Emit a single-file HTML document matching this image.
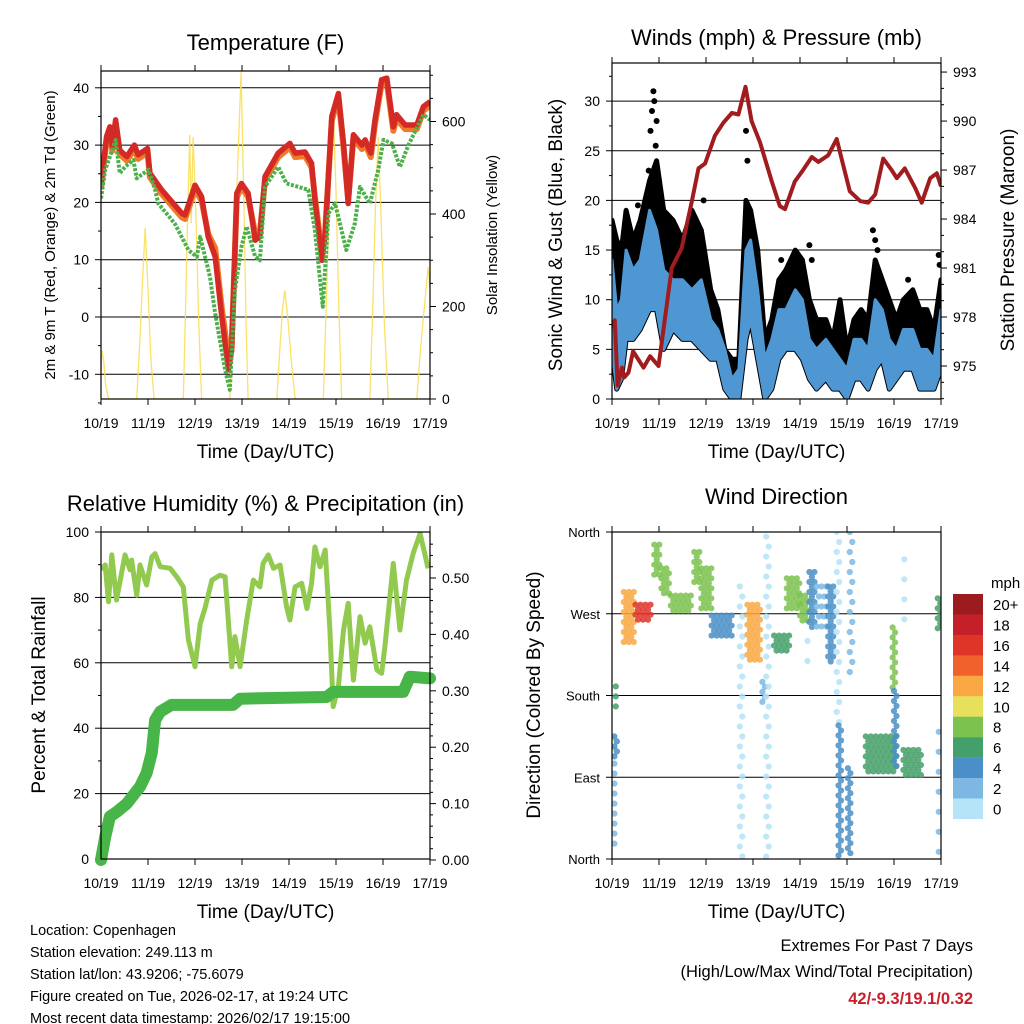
<!DOCTYPE html>
<html><head><meta charset="utf-8"><style>
body{margin:0;background:#fff;}
svg{display:block;font-family:"Liberation Sans",sans-serif;}
</style></head><body>
<svg id="c" width="1024" height="1024" viewBox="0 0 1024 1024"></svg>
<script>
// ---------- DATA ----------
const dayLabels = ["10/19","11/19","12/19","13/19","14/19","15/19","16/19","17/19"];
const tDays = [0,0.12,0.19,0.24,0.31,0.40,0.55,0.71,0.79,0.99,1.04,1.29,1.72,1.79,2.0,2.14,2.28,2.43,2.57,2.71,2.78,2.89,2.99,3.13,3.28,3.38,3.49,3.77,4.02,4.13,4.34,4.48,4.55,4.70,4.77,4.91,5.05,5.16,5.26,5.37,5.55,5.62,5.74,5.83,5.97,6.08,6.22,6.29,6.47,6.72,6.86,7.0];
const tRed = [23.3,31.5,33.2,29.7,34.4,29.1,28,30,28.3,29.4,25.1,22.2,18.1,17.8,23,21,14,10.5,0,-9.2,-5.8,21.6,23.3,21.6,13.4,14,24.5,28.6,30.3,28.6,28.8,26.8,20.4,9.9,14.6,35,39,30.3,19.8,31.8,30,30.9,28.6,34.4,41.4,41.7,33.2,35.3,33.5,33.5,36.7,37.6];
const tOrange = [22.6,30.8,32.5,29,33.7,28.4,27.3,29.3,27.6,28.7,24.4,21.5,17.4,17.1,22.3,20.3,14.5,12,1.5,-7,-4.8,20.9,22.6,21,14.5,14.8,23.8,27.9,29.6,27.9,28.1,26.1,21,11,15,34.3,38.3,29.6,20.5,31.1,29.3,30.2,27.9,33.7,40.7,41,32.5,34.6,32.8,32.8,36,36.9];
const tdDays = [0,0.09,0.19,0.31,0.40,0.51,0.69,0.76,1.01,1.15,1.22,1.57,1.86,2.04,2.11,2.32,2.43,2.64,2.74,2.85,2.99,3.10,3.28,3.38,3.49,3.77,3.95,4.41,4.55,4.72,4.84,4.98,5.22,5.40,5.51,5.72,5.90,6.01,6.19,6.36,6.54,6.86,7.0];
const tdVals = [20.7,25.7,28,30.9,25.1,26.2,27.4,24.2,25.7,22.2,19.8,16.3,11.7,10.5,14,7,0.6,-9.2,-12.7,4.7,12.3,15.8,10.5,9.9,22.7,26.2,23.3,22.2,15.2,1.8,18.1,19.8,11.7,16.3,22.7,19.8,25.7,30.9,30.3,26.2,30,35.3,34.4];
const solarDays = [0,0.02,0.06,0.1,0.16,0.76,0.82,0.88,0.94,1.0,1.06,1.13,1.75,1.8,1.85,1.89,1.92,1.96,2.02,2.08,2.14,2.74,2.82,2.9,2.98,3.04,3.09,3.13,3.74,3.8,3.86,3.91,3.97,4.05,4.13,4.73,4.8,4.87,4.94,5.0,5.06,5.12,5.72,5.78,5.84,5.9,5.96,6.03,6.11,6.72,6.8,6.88,6.96,7.0];
const solarVals = [60,105,80,30,0,0,110,250,370,240,90,0,0,200,420,571,380,566,400,160,0,0,240,480,707,420,150,0,0,100,190,235,180,80,0,0,230,470,631,450,200,0,0,190,420,566,390,160,0,0,110,200,285,240];
const wDays = [0,0.1,0.2,0.3,0.45,0.6,0.8,0.95,1.1,1.3,1.5,1.7,1.9,2.1,2.25,2.4,2.55,2.7,2.85,2.95,3.1,3.25,3.4,3.55,3.7,3.9,4.05,4.2,4.35,4.55,4.7,4.85,5.0,5.15,5.3,5.45,5.6,5.75,5.9,6.05,6.2,6.4,6.55,6.7,6.85,7.0];
const windLo = [5,1,2,6,6,7,9,9,5,7,6,6,5,4,4,1,0,0,6,8,4,0,1,4,5,5,4,2,1,2,1,1,0,2,2,1,3,4,1,2,3,3,1,1,1,3];
const windHi = [14,9,10,15,13,14,19,17,13,12,12,11,12,8,7,5,2,3,15,16,11,4,6,9,9,11,10,6,5,6,5,4,3,6,6,5,10,9,6,5,7,7,5,5,4,9];
const gustHi = [18,16,15,19,16,18,22,24,19,18,16,19,17,11,9,5,4,4,20,19,15,6,8,12,13,15,14,10,8,8,6,10,5,8,9,8,14,12,10,8,10,11,9,9,7,12];
const gustOutDays = [0.55,0.78,0.82,0.85,0.88,0.9,0.93,0.95,1.0,1.95,2.85,2.88,3.6,4.2,4.25,5.55,5.6,5.65,6.3,6.95,6.97];
const gustOutVals = [19.5,23,27,29,31,30,25.5,28,22,20,27,24,14,15.5,14,17,16,15,12,14.5,13.5];
const pDays = [0,0.06,0.12,0.21,0.26,0.35,0.45,0.67,0.81,0.99,1.09,1.27,1.48,1.70,1.84,1.98,2.19,2.37,2.55,2.69,2.84,2.97,3.15,3.40,3.57,3.68,3.89,4.04,4.25,4.39,4.60,4.78,4.92,5.06,5.28,5.45,5.60,5.77,5.95,6.06,6.23,6.45,6.59,6.77,6.91,7.0];
const pVals = [977.3,977.8,973.8,974.9,974.3,974.6,975.9,974.9,975.6,975,977.1,981,982.2,985.1,987.1,987.4,989.1,989.9,990.5,990.4,992.1,990,988.7,986.3,984.8,984.6,986.3,986.9,987.8,987.5,987.9,988.9,987.3,985.7,985.1,985,985.5,987.7,987,986.5,987.1,985.9,985,986.5,986.8,986];
const rhDays = [0.01,0.09,0.16,0.23,0.33,0.51,0.62,0.65,0.76,0.83,0.97,1.08,1.15,1.26,1.47,1.61,1.75,1.86,2.0,2.11,2.21,2.36,2.53,2.64,2.78,2.85,2.96,3.10,3.24,3.38,3.45,3.56,3.67,3.81,3.95,4.02,4.13,4.27,4.38,4.48,4.55,4.66,4.77,4.87,4.94,5.05,5.16,5.26,5.37,5.51,5.62,5.72,5.87,5.97,6.04,6.22,6.36,6.50,6.64,6.79,6.96];
const rhVals = [88.4,89.9,78.7,93,79.2,93,88.4,91.4,80.7,89.9,83.8,92.4,93.4,89.4,88.9,86.3,83.2,67,58.8,72,76.6,85.3,86.8,86.3,58.8,68,58.8,73.1,85.3,83.2,90.4,93,88.9,89.9,77.1,73.1,83.2,84.3,76.6,84.3,95.4,89.4,94.5,70,46.6,52.7,70,78.2,54.7,74.1,66,71,57.8,56.8,65,90.4,70,85.3,93.4,99.5,88.9];
const prDays = [0,0.09,0.19,0.33,0.55,0.83,0.97,1.08,1.15,1.26,1.50,2.81,2.96,4.80,4.94,6.43,6.57,7.0];
const prVals = [0,0.041,0.077,0.085,0.10,0.13,0.154,0.19,0.248,0.263,0.275,0.275,0.286,0.289,0.298,0.298,0.325,0.322];
// wind direction clusters: start day, end day, low dir, high dir, speed
const wdT0 = [0.0,0.05,0.08,0.05,0.25,0.5,0.9,1.05,1.25,1.75,1.9,2.12,2.72,2.88,3.2,3.28,3.45,3.72,4.0,4.2,4.35,4.6,4.78,5.06,4.82,5.02,5.4,5.97,6.0,6.2,6.95,6.93,6.22,4.16];
const wdT1 = [0.05,0.15,0.12,0.09,0.5,0.85,1.05,1.25,1.7,1.9,2.12,2.55,2.8,3.18,3.26,3.34,3.82,4.0,4.2,4.35,4.6,4.75,4.84,5.12,4.9,5.1,6.05,6.05,6.06,6.6,7.0,7.0,6.26,4.2];
const wdLo = [111,110,165,15,236,261,310,290,268,300,275,243,0,217,170,0,225,275,258,250,255,217,150,200,2,2,95,185,100,90,0,250,260,200];
const wdHi = [133,135,190,105,294,280,346,320,290,338,320,268,300,280,195,355,246,309,290,316,300,300,360,360,147,100,135,255,185,120,140,287,330,240];
const wdSpd = [11,5,7,3,12,17,9,9,9,9,9,5,1,12,3,1,6,8,8,4,2,4,1,2,4,4,6,8,4,6,2,7,1,1];
const cbLabels = ["20+","18","16","14","12","10","8","6","4","2","0"];
const cbColors = ["#9b1b1e","#c4202a","#df3428","#f0612b","#f9a843","#e6e05a","#7cc24f","#44a06a","#4a8fc7","#7cb8e3","#b5e3f7"];

// ---------- HELPERS ----------
const NS="http://www.w3.org/2000/svg";
const svg=document.getElementById('c');
function mk(tag,attrs,parent){const e=document.createElementNS(NS,tag);for(const k in attrs)e.setAttribute(k,attrs[k]);(parent||svg).appendChild(e);return e;}
function txt(s,x,y,size,anchor,parent,extra){const e=mk('text',Object.assign({x:x,y:y,'font-size':size,'text-anchor':anchor||'middle',fill:'#000'},extra||{}),parent);e.textContent=s;return e;}
function poly(xs,ys,fx,fy){return xs.map((d,i)=>fx(d).toFixed(1)+','+fy(ys[i]).toFixed(1)).join(' ');}

function panel(name,x0,x1,top,bot){
  const g=mk('g',{});
  
  
  const cp=mk('clipPath',{id:'cp-'+name},g);
  mk('rect',{x:x0,y:top,width:x1-x0,height:bot-top},cp);
  const sx=d=>x0+d*(x1-x0)/7;
  for(let i=0;i<8;i++){
    const x=sx(i);
    mk('line',{x1:x,y1:bot,x2:x,y2:bot+6,stroke:'#000','stroke-width':1},g);
    mk('line',{x1:x,y1:top,x2:x,y2:top-6,stroke:'#000','stroke-width':1},g);
    const t=txt(dayLabels[i],x,bot+29,14,'middle',g);
    
    
  }
  const t=txt('Time (Day/UTC)',(x0+x1)/2,bot+59,19,'middle',g);
  
  
  return {g,sx,x0,x1,top,bot,clip:'url(#cp-'+name+')'};
}
function yAxis(p,side,vals,fy,labels,minor,grid,size){
  const x=side==='l'?p.x0:p.x1, dir=side==='l'?-1:1;
  minor.forEach(v=>{const y=fy(v);mk('line',{x1:x,y1:y,x2:x+dir*3,y2:y,stroke:'#000','stroke-width':1},p.g);});
  vals.forEach((v,i)=>{const y=fy(v);
    mk('line',{x1:x,y1:y,x2:x+dir*6,y2:y,stroke:'#000','stroke-width':1},p.g);
    if(grid) mk('line',{x1:p.x0,y1:y,x2:p.x1,y2:y,stroke:'#000','stroke-width':1},p.g);
    const t=txt(labels[i],x+dir*12,y+5,size||14,side==='l'?'end':'start',p.g);
    
    
  });
}
function frame(p){mk('rect',{x:p.x0,y:p.top,width:p.x1-p.x0,height:p.bot-p.top,fill:'none',stroke:'#000','stroke-width':1.2},p.g);}
function vtitle(p,s,x,cy,size,name){const t=txt(s,x,cy,size,'middle',p.g,{transform:'rotate(-90 '+x+' '+cy+')'});}
function title(p,s,y,name){const t=txt(s,(p.x0+p.x1)/2,y,22,'middle',p.g);}

// ---------- PANEL 1: TEMPERATURE ----------
const p1=panel('temperature-panel',101,430,71,399);
const tY=v=>317-v*5.73, sY=v=>399-v*0.4625;
yAxis(p1,'l',[-10,0,10,20,30,40],tY,['-10','0','10','20','30','40'],[-15,-5,5,15,25,35],true);
yAxis(p1,'r',[0,200,400,600],sY,['0','200','400','600'],[50,100,150,250,300,350,450,500,550,650,700],false);
const c1=mk('g',{'clip-path':p1.clip},p1.g);
let e;
e=mk('polyline',{points:poly(solarDays,solarVals,p1.sx,sY),fill:'none',stroke:'#f9dc4c','stroke-width':1.3,'stroke-opacity':0.85},c1);


e=mk('polyline',{points:poly(tDays,tOrange,p1.sx,tY),fill:'none',stroke:'#f07a2a','stroke-width':6,'stroke-linejoin':'round'},c1);


e=mk('polyline',{points:poly(tDays,tRed,p1.sx,tY),fill:'none',stroke:'#d42a26','stroke-width':5.5,'stroke-linejoin':'round'},c1);


e=mk('polyline',{points:poly(tdDays,tdVals,p1.sx,tY),fill:'none',stroke:'#4cb04a','stroke-width':4,'stroke-dasharray':'3 1.5','stroke-linejoin':'round'},c1);


frame(p1);
title(p1,'Temperature (F)',50,'temperature-title');
vtitle(p1,'2m & 9m T (Red, Orange) & 2m Td (Green)',55,235,15,'temperature-y-axis-title');
vtitle(p1,'Solar Insolation (Yellow)',497,235,15,'solar-y-axis-title');

// ---------- PANEL 2: WINDS ----------
const p2=panel('winds-panel',612,941,63,399);
const wY=v=>399-v*9.93, pY=v=>366-(v-975)*16.33;
yAxis(p2,'l',[0,5,10,15,20,25,30],wY,['0','5','10','15','20','25','30'],[2.5,7.5,12.5,17.5,22.5,27.5,32.5],true);
yAxis(p2,'r',[975,978,981,984,987,990,993],pY,['975','978','981','984','987','990','993'],[973,974,976,977,979,980,982,983,985,986,988,989,991,992],false);
const c2=mk('g',{'clip-path':p2.clip},p2.g);
function band(lo,hi,color,name,sw){
  const pts=wDays.map((d,i)=>p2.sx(d).toFixed(1)+','+wY(hi[i]).toFixed(1));
  for(let i=wDays.length-1;i>=0;i--)pts.push(p2.sx(wDays[i]).toFixed(1)+','+wY(lo[i]).toFixed(1));
  const b=mk('polygon',{points:pts.join(' '),fill:color,stroke:color,'stroke-width':sw,'stroke-linejoin':'round'},c2);
  
  
}
band(windLo,gustHi,'#000','gust-points',5);
const og=mk('g',{fill:'#000'},c2);


gustOutDays.forEach((d,i)=>{mk('circle',{cx:p2.sx(d).toFixed(1),cy:wY(gustOutVals[i]).toFixed(1),r:3},og);});
band(windLo,windHi,'#4f97d2','sonic-wind-band',3);
e=mk('polyline',{points:poly(pDays,pVals,p2.sx,pY),fill:'none',stroke:'#a01c1f','stroke-width':4,'stroke-linejoin':'round'},c2);


frame(p2);
title(p2,'Winds (mph) & Pressure (mb)',45,'winds-title');
vtitle(p2,'Sonic Wind & Gust (Blue, Black)',562,235,19,'wind-y-axis-title');
vtitle(p2,'Station Pressure (Maroon)',1014,240,19,'pressure-y-axis-title');

// ---------- PANEL 3: RH & PRECIP ----------
const p3=panel('humidity-panel',101,430,532,859);
const rY=v=>859-v*3.27, prY=v=>860-v*564;
yAxis(p3,'l',[0,20,40,60,80,100],rY,['0','20','40','60','80','100'],[10,30,50,70,90],true);
yAxis(p3,'r',[0,0.1,0.2,0.3,0.4,0.5],prY,['0.00','0.10','0.20','0.30','0.40','0.50'],[0.02,0.04,0.06,0.08,0.12,0.14,0.16,0.18,0.22,0.24,0.26,0.28,0.32,0.34,0.36,0.38,0.42,0.44,0.46,0.48,0.52,0.54,0.56],false);
const c3=mk('g',{'clip-path':p3.clip},p3.g);
e=mk('polyline',{points:poly(rhDays,rhVals,p3.sx,rY),fill:'none',stroke:'#92ca50','stroke-width':5,'stroke-linejoin':'round'},c3);


e=mk('polyline',{points:poly(prDays,prVals,p3.sx,prY),fill:'none',stroke:'#48b548','stroke-width':12,'stroke-linejoin':'round','stroke-linecap':'round'},p3.g);


frame(p3);
title(p3,'Relative Humidity (%) & Precipitation (in)',511,'humidity-title');
vtitle(p3,'Percent & Total Rainfall',45,695,19,'humidity-y-axis-title');

// ---------- PANEL 4: WIND DIRECTION ----------
const p4=panel('wind-direction-panel',612,941,532,859);
const dY=v=>859-v*0.9083;
yAxis(p4,'l',[0,90,180,270,360],dY,['North','East','South','West','North'],[],true,13);
const c4=mk('g',{'clip-path':p4.clip},p4.g);
wdT0.forEach((t0,i)=>{
  const ci=10-Math.min(10,Math.floor(wdSpd[i]/2));
  const col=cbColors[ci];
  const g=mk('g',{fill:col,'fill-opacity':0.85},c4);
  
  
  const xa=p4.sx(t0), xb=p4.sx(wdT1[i]);
  const ya=dY(wdHi[i]), yb=dY(wdLo[i]);
  const sparse=wdSpd[i]<=2?10:5;
  let row=0;
  for(let y=ya;y<=yb+0.01;y+=sparse){
    const off=(row++%2)*2.5;
    for(let x=xa+off;x<=xb+0.01;x+=5){
      mk('circle',{cx:x.toFixed(1),cy:y.toFixed(1),r:3.1},g);
    }
  }
});
frame(p4);
title(p4,'Wind Direction',504,'wind-direction-title');
vtitle(p4,'Direction (Colored By Speed)',540,695,19,'direction-y-axis-title');

// colorbar
const cb=mk('g',{});


cbColors.forEach((c,i)=>{
  const y=594+i*20.45;
  const r=mk('rect',{x:953,y:y,width:30,height:20.6,fill:c},cb);
  
  
  const t=txt(cbLabels[i],993,y+16,15,'start',cb);
  
  
});
e=txt('mph',991,588,15,'start',cb);



// footer texts
const info=["Location: Copenhagen","Station elevation: 249.113 m","Station lat/lon: 43.9206; -75.6079","Figure created on Tue, 2026-02-17, at 19:24 UTC","Most recent data timestamp: 2026/02/17 19:15:00"];
info.forEach((s,i)=>{const t=txt(s,30,935+i*22,14.5,'start');
  
  });
e=txt('Extremes For Past 7 Days',973,951,16.5,'end');


e=txt('(High/Low/Max Wind/Total Precipitation)',973,977,16.5,'end');


e=txt('42/-9.3/19.1/0.32',973,1004,16.5,'end',null,{fill:'#c8202a','font-weight':'bold'});


</script>
</body></html>
